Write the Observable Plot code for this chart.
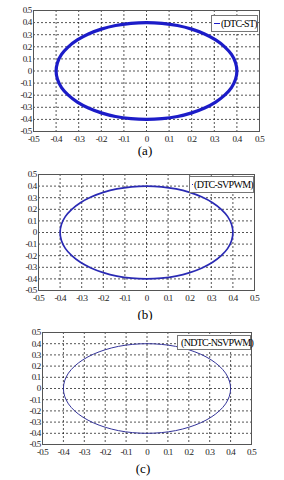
<!DOCTYPE html>
<html><head><meta charset="utf-8">
<script src="https://cdn.jsdelivr.net/npm/d3@7"></script>
<script src="https://cdn.jsdelivr.net/npm/@observablehq/plot@0.6"></script>
<style>
html,body{margin:0;padding:0;background:#fff;}
#root{position:relative;width:284px;height:480px;overflow:hidden;font-family:"Liberation Serif","DejaVu Serif",serif;}
.panel{position:absolute;left:0;}
.cap{position:absolute;font-size:13px;transform:translateX(-50%);line-height:1;}
.leg{position:absolute;background:#fff;border:1px solid #777;font-size:10px;letter-spacing:-0.7px;line-height:1;display:flex;align-items:center;white-space:nowrap;box-sizing:border-box;}
.leg span.sw{display:inline-block;width:9px;height:0;margin:0 1px 0 2px;}
</style></head>
<body><div id="root"></div>
<script>
// data
const ticks = [-0.5,-0.4,-0.3,-0.2,-0.1,0,0.1,0.2,0.3,0.4,0.5];
const xVals = [0.400,0.394,0.376,0.346,0.306,0.257,0.200,0.137,0.069,0.000,-0.069,-0.137,-0.200,-0.257,-0.306,-0.346,-0.376,-0.394,-0.400,-0.394,-0.376,-0.346,-0.306,-0.257,-0.200,-0.137,-0.069,0.000,0.069,0.137,0.200,0.257,0.306,0.346,0.376,0.394];
const yVals = [0.000,0.069,0.137,0.200,0.257,0.306,0.346,0.376,0.394,0.400,0.394,0.376,0.346,0.306,0.257,0.200,0.137,0.069,0.000,-0.069,-0.137,-0.200,-0.257,-0.306,-0.346,-0.376,-0.394,-0.400,-0.394,-0.376,-0.346,-0.306,-0.257,-0.200,-0.137,-0.069];
const legendLabels = ["(DTC-ST)","(DTC-SVPWM)","(NDTC-NSVPWM)"];
const captions = ["(a)","(b)","(c)"];

const pts = xVals.map((x,i)=>({x, y:yVals[i]}));
const fmt = d => String(Math.round(d*10)/10);

const panels = [
  {top:0, mt:10, mb:14, ml:33, mr:25, h:145, color:"#1c1cc8", sw:3.2, capX:145, capY:144,
   leg:{l:211,t:15,w:47,h:17}},
  {top:160, mt:14, mb:14, ml:38, mr:30, h:144, color:"#2a2ab4", sw:1.7, capX:145, capY:308,
   leg:{l:189,t:176,w:65,h:17}},
  {top:320, mt:12, mb:14, ml:42, mr:33, h:138, color:"#34349a", sw:1.0, capX:143, capY:462,
   leg:{l:177,t:335,w:74,h:15}}
];

const root = document.getElementById("root");
panels.forEach((p,i)=>{
  const chart = Plot.plot({
    width:284, height:p.h,
    marginLeft:p.ml, marginRight:p.mr, marginTop:p.mt, marginBottom:p.mb,
    style:{fontFamily:"Liberation Serif, serif", fontSize:"9px", letterSpacing:"-0.8px", color:"#222", background:"white"},
    x:{domain:[-0.5,0.5], ticks, tickFormat:fmt, tickSize:0, tickPadding:4, label:null},
    y:{domain:[-0.5,0.5], ticks, tickFormat:fmt, tickSize:0, tickPadding:2, label:null},
    marks:[
      Plot.gridX(ticks.slice(1,-1), {stroke:"#000", strokeOpacity:0.85, strokeDasharray:"2,2", strokeWidth:0.8}),
      Plot.gridY(ticks.slice(1,-1), {stroke:"#000", strokeOpacity:0.85, strokeDasharray:"2,2", strokeWidth:0.8}),
      Plot.line(pts, {x:"x", y:"y", curve:"catmull-rom-closed", stroke:p.color, strokeWidth:p.sw}),
      Plot.frame({stroke:"#555", strokeWidth:1})
    ]
  });
  const wrap = document.createElement("div");
  wrap.className = "panel";
  wrap.style.top = p.top + "px";
  wrap.appendChild(chart);
  root.appendChild(wrap);

  const leg = document.createElement("div");
  leg.className = "leg";
  leg.style.left = p.leg.l+"px"; leg.style.top = p.leg.t+"px";
  leg.style.width = p.leg.w+"px"; leg.style.height = p.leg.h+"px";
  const sw = document.createElement("span");
  sw.className = "sw";
  sw.style.borderTop = "1px solid " + p.color;
  leg.appendChild(sw);
  const t = document.createElement("span");
  t.textContent = legendLabels[i];
  leg.appendChild(t);
  root.appendChild(leg);

  const cap = document.createElement("div");
  cap.className = "cap";
  cap.style.left = p.capX+"px"; cap.style.top = p.capY+"px";
  cap.textContent = captions[i];
  root.appendChild(cap);
});
</script>
</body></html>
